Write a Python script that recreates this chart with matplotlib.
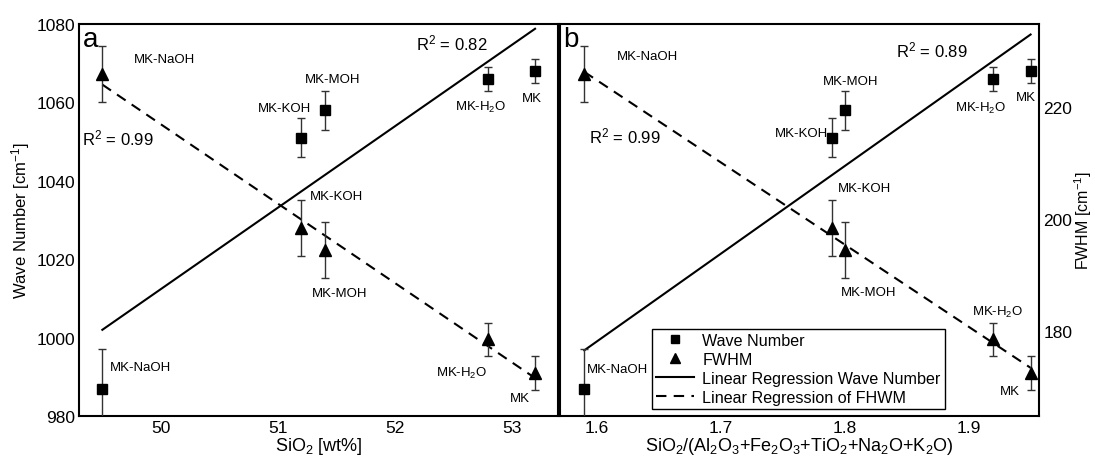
import numpy as np
import matplotlib
matplotlib.use('Agg')
import matplotlib.pyplot as plt
from matplotlib.lines import Line2D

plt.rcParams['font.family'] = 'Liberation Sans'
plt.rcParams['mathtext.fontset'] = 'custom'
plt.rcParams['mathtext.rm'] = 'Liberation Sans'
plt.rcParams['mathtext.it'] = 'Liberation Sans:italic'
plt.rcParams['mathtext.default'] = 'regular'

# Sample data
samples = ['MK-NaOH', 'MK-KOH', 'MK-MOH', 'MK-H$_2$O', 'MK']
sio2_wt = [49.5, 51.2, 51.4, 52.8, 53.2]
sio2_ratio = [1.59, 1.79, 1.80, 1.92, 1.95]
wave_number = [987, 1051, 1058, 1066, 1068]
wave_err = [10, 5, 5, 3, 3]
fwhm = [226, 198.5, 194.5, 178.5, 172.5]
fwhm_err = [5, 5, 5, 3, 3]
r2_wave = [0.82, 0.89]
r2_fwhm = [0.99, 0.99]

# label positions (x, wave number scale) for each panel
lab_sq_a = [(49.83, 992.6), (51.06, 1058.7), (51.47, 1066.0), (52.73, 1059.0), (53.17, 1061.1)]
lab_tri_a = [(50.03, 1071.1), (51.50, 1036.2), (51.53, 1011.5), (52.57, 991.2), (53.07, 984.7)]
lab_sq_b = [(1.617, 991.9), (1.765, 1052.3), (1.805, 1065.5), (1.910, 1058.7), (1.946, 1061.5)]
lab_tri_b = [(1.641, 1071.8), (1.816, 1038.3), (1.8195, 1011.7), (1.923, 1006.6), (1.933, 986.4)]

WAVE_LIM = (980, 1080)
FWHM_LIM = (164.8, 234.9)
TICK_FS = 12.5
LABEL_FS = 13


def draw_panel(ax, x, xlim, lab_sq, lab_tri, r2_w_pos, r2_f_pos, r2_w, r2_f, letter):
    axt = ax.twinx()
    ax.set_xlim(*xlim)
    ax.set_ylim(*WAVE_LIM)
    axt.set_ylim(*FWHM_LIM)

    x = np.array(x)
    xs = np.array([x.min(), x.max()])
    # regression lines
    p_w = np.polyfit(x, wave_number, 1)
    ax.plot(xs, np.polyval(p_w, xs), color='k', lw=1.5, zorder=2)
    p_f = np.polyfit(x, fwhm, 1)
    axt.plot(xs, np.polyval(p_f, xs), color='k', lw=1.5, ls=(0, (5, 3.5)), zorder=2)

    ax.errorbar(x, wave_number, yerr=wave_err, fmt='s', color='k', ms=7,
                ecolor='#333333', elinewidth=1, capsize=3, capthick=1, zorder=3)
    axt.errorbar(x, fwhm, yerr=fwhm_err, fmt='^', color='k', ms=8,
                 ecolor='#333333', elinewidth=1, capsize=3, capthick=1, zorder=3)

    for name, (tx, ty) in zip(samples, lab_sq):
        ax.text(tx, ty, name, ha='center', va='center', fontsize=9.5)
    for name, (tx, ty) in zip(samples, lab_tri):
        ax.text(tx, ty, name, ha='center', va='center', fontsize=9.5)
    ax.text(*r2_w_pos, f'R$^2$ = {r2_w:.2f}', ha='center', va='center', fontsize=12)
    ax.text(*r2_f_pos, f'R$^2$ = {r2_f:.2f}', ha='center', va='center', fontsize=12)
    ax.text(0.008, 0.995, letter, transform=ax.transAxes, ha='left', va='top', fontsize=20)

    for s in ax.spines.values():
        s.set_linewidth(1.5)
    for s in axt.spines.values():
        s.set_visible(False)
    ax.tick_params(length=0, labelsize=TICK_FS, pad=3)
    axt.tick_params(length=0, labelsize=TICK_FS, pad=3)
    return axt


fig = plt.figure(figsize=(10.95, 4.6), dpi=100)
ax1 = fig.add_axes([0.0721, 0.0935, 0.4379, 0.852])
ax2 = fig.add_axes([0.5110, 0.0935, 0.4381, 0.852])

ax1t = draw_panel(ax1, sio2_wt, (49.3, 53.4), lab_sq_a, lab_tri_a,
                  (52.49, 1075.3), (49.63, 1051.1), r2_wave[0], r2_fwhm[0], 'a')
ax2t = draw_panel(ax2, sio2_ratio, (1.57, 1.957), lab_sq_b, lab_tri_b,
                  (1.870, 1073.6), (1.6225, 1051.5), r2_wave[1], r2_fwhm[1], 'b')

ax1.set_xticks([50, 51, 52, 53])
ax1.set_yticks([980, 1000, 1020, 1040, 1060, 1080])
ax1t.set_yticks([])
ax2.set_xticks([1.6, 1.7, 1.8, 1.9])
ax2.set_yticks([])
ax2t.set_yticks([180, 200, 220])

ax1.set_xlabel('SiO$_2$ [wt%]', fontsize=LABEL_FS, labelpad=0)
ax1.set_ylabel('Wave Number [cm$^{-1}$]', fontsize=12, labelpad=3)
ax2.set_xlabel('SiO$_2$/(Al$_2$O$_3$+Fe$_2$O$_3$+TiO$_2$+Na$_2$O+K$_2$O)', fontsize=LABEL_FS, labelpad=0)
ax2t.set_ylabel('FWHM [cm$^{-1}$]', fontsize=11.5, labelpad=0)

handles = [
    Line2D([], [], marker='s', color='k', ls='none', ms=6),
    Line2D([], [], marker='^', color='k', ls='none', ms=7),
    Line2D([], [], color='k', lw=1.5),
    Line2D([], [], color='k', lw=1.5, ls=(0, (5, 3.5))),
]
labels = ['Wave Number', 'FWHM', 'Linear Regression Wave Number', 'Linear Regression of FHWM']
leg = ax2t.legend(handles, labels, loc='lower right', bbox_to_anchor=(0.803, 0.018),
                  borderaxespad=0, fontsize=11.6, frameon=True, fancybox=False,
                  edgecolor='k', framealpha=1, handlelength=2.4, handletextpad=0.5,
                  labelspacing=0.25, borderpad=0.25)
leg.get_frame().set_linewidth(1.0)

fig.savefig('out.png', dpi=100, facecolor='white')
